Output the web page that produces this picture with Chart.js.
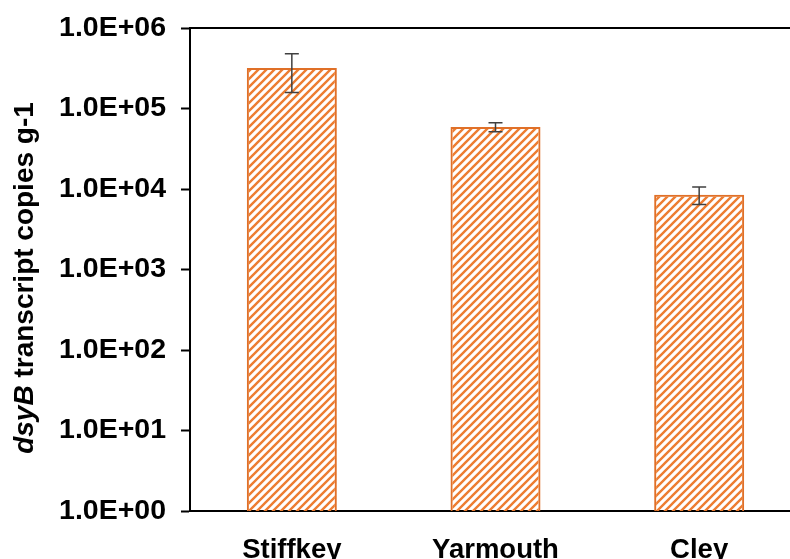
<!DOCTYPE html>
<html>
<head>
<meta charset="utf-8">
<script src="https://cdn.jsdelivr.net/npm/chart.js@4"></script>
<style>
html, body { margin: 0; padding: 0; overflow: hidden; background: #fff; }
</style>
</head>
<body>
<canvas id="chart" width="801" height="559"></canvas>
<script>
var sites = ['Stiffkey', 'Yarmouth', 'Cley'];
var copies = [318000, 58800, 8500];
var errors = [160000, 7500, 2100];
var decades = [1, 10, 100, 1000, 10000, 100000, 1000000];

var FONT = '"Liberation Sans", Arial, sans-serif';

// wide upward diagonal hatch, like the excel pattern fill
function hatch() {
    var c = document.createElement('canvas');
    c.width = 8;
    c.height = 8;
    var g = c.getContext('2d');
    g.strokeStyle = '#ED7D31';
    g.lineWidth = 2.4;
    g.beginPath();
    g.moveTo(-2, 10); g.lineTo(10, -2);
    g.moveTo(-2, 2); g.lineTo(2, -2);
    g.moveTo(6, 10); g.lineTo(10, 6);
    g.stroke();
    return g.createPattern(c, 'repeat');
}

var errorBars = {
    id: 'errorBars',
    afterDatasetsDraw: function(chart) {
        var ctx = chart.ctx;
        var y = chart.scales.y;
        var meta = chart.getDatasetMeta(0);
        ctx.save();
        ctx.strokeStyle = '#404040';
        ctx.lineWidth = 1.5;
        meta.data.forEach(function(bar, i) {
            var top = y.getPixelForValue(copies[i] + errors[i]);
            var bot = y.getPixelForValue(copies[i] - errors[i]);
            var x = bar.x;
            ctx.beginPath();
            ctx.moveTo(x, top); ctx.lineTo(x, bot);
            ctx.moveTo(x - 7, top); ctx.lineTo(x + 7, top);
            ctx.moveTo(x - 7, bot); ctx.lineTo(x + 7, bot);
            ctx.stroke();
        });
        ctx.restore();
    }
};

var frame = {
    id: 'frame',
    afterDraw: function(chart) {
        var ctx = chart.ctx;
        var a = chart.chartArea;
        ctx.save();
        ctx.strokeStyle = '#000';
        ctx.lineWidth = 2;
        ctx.beginPath();
        ctx.moveTo(a.left, a.top);
        ctx.lineTo(a.right, a.top);
        ctx.stroke();

        // y title, dsyB in italics
        ctx.translate(25, 278);
        ctx.rotate(-Math.PI / 2);
        ctx.fillStyle = '#000';
        ctx.textBaseline = 'middle';
        var f1 = 'italic bold 28px ' + FONT;
        var f2 = 'bold 28px ' + FONT;
        var t1 = 'dsyB';
        var t2 = ' transcript copies g-1';
        ctx.font = f1;
        var w1 = ctx.measureText(t1).width;
        ctx.font = f2;
        var w2 = ctx.measureText(t2).width;
        var x0 = -(w1 + w2) / 2;
        ctx.font = f1;
        ctx.fillText(t1, x0, 0);
        ctx.font = f2;
        ctx.fillText(t2, x0 + w1, 0);
        ctx.restore();
    }
};

var ctx = document.getElementById('chart');
var myChart = new Chart(ctx, {
    type: 'bar',
    data: {
        labels: sites,
        datasets: [{
            data: copies,
            backgroundColor: hatch(),
            borderColor: '#E07028',
            borderWidth: 2,
            barPercentage: 0.442,
            categoryPercentage: 1
        }]
    },
    options: {
        responsive: false,
        animation: false,
        layout: { padding: { top: 28, left: 0, right: 0, bottom: 0 } },
        plugins: {
            legend: { display: false },
            tooltip: { enabled: false }
        },
        scales: {
            x: {
                grid: { display: false },
                border: { display: true, color: '#000', width: 2 },
                ticks: {
                    color: '#000',
                    padding: 15,
                    font: { family: FONT, size: 27.5, weight: 'bold' }
                },
                afterFit: function(s) { s.height = 48; }
            },
            y: {
                type: 'logarithmic',
                min: 1,
                max: 1000000,
                border: { display: true, color: '#000', width: 2 },
                grid: {
                    drawOnChartArea: false,
                    drawTicks: true,
                    tickLength: 9,
                    tickColor: '#000',
                    tickWidth: 2
                },
                afterBuildTicks: function(s) {
                    s.ticks = decades.map(function(v) { return { value: v }; });
                },
                ticks: {
                    color: '#000',
                    padding: 15,
                    font: { family: FONT, size: 28.5, weight: 'bold' },
                    callback: function(v) {
                        var e = Math.round(Math.log10(v));
                        return '1.0E+' + (e < 10 ? '0' : '') + e;
                    }
                },
                afterFit: function(s) {
                    s.width = 190;
                    s.paddingTop = 0;
                    s.paddingBottom = 0;
                }
            }
        }
    },
    plugins: [errorBars, frame]
});
</script>
</body>
</html>
